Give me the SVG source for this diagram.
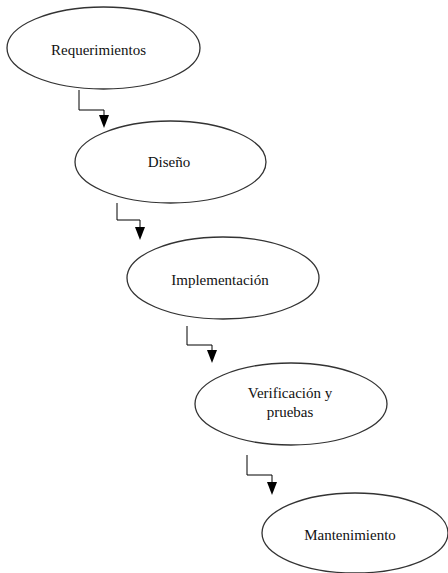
<svg xmlns="http://www.w3.org/2000/svg" width="448" height="573" viewBox="0 0 448 573">
<style>
.n{fill:#fff;stroke:#333;stroke-width:1.3}
.t{font-size:15px;fill:#111;text-anchor:middle}
.c{fill:none;stroke:#000;stroke-width:1}
.a{fill:#000}
</style>
<rect width="448" height="573" fill="#fff"/>
<g id="connectors">
<path class="c" d="M79,90 V110 H104 V115"/>
<path class="a" d="M99,115 H109 L104,128 Z"/>
<path class="c" d="M117,203 V220 H140 V227"/>
<path class="a" d="M135,227 H145 L140,240 Z"/>
<path class="c" d="M187,326 V345 H212 V350"/>
<path class="a" d="M207,350 H217 L212,363 Z"/>
<path class="c" d="M247,455 V475 H272 V482"/>
<path class="a" d="M267,482 H277 L272,495 Z"/>
</g>
<g font-family="'Liberation Serif', 'Times New Roman', serif">
<g id="requerimientos">
<ellipse class="n" cx="103.5" cy="48" rx="96.5" ry="41"/>
<text class="t" x="98.5" y="55">Requerimientos</text>
</g>
<g id="diseno">
<ellipse class="n" cx="170.5" cy="162" rx="95.5" ry="41"/>
<text class="t" x="169" y="167">Diseño</text>
</g>
<g id="implementacion">
<ellipse class="n" cx="223" cy="278" rx="96" ry="41"/>
<text class="t" x="220" y="285">Implementación</text>
</g>
<g id="verificacion">
<ellipse class="n" cx="291" cy="404" rx="96" ry="41"/>
<text class="t" x="290" y="398">Verificación y</text>
<text class="t" x="290" y="417">pruebas</text>
</g>
<g id="mantenimiento">
<ellipse class="n" cx="355" cy="533" rx="93" ry="40"/>
<text class="t" x="350" y="540">Mantenimiento</text>
</g>
</g>
</svg>
